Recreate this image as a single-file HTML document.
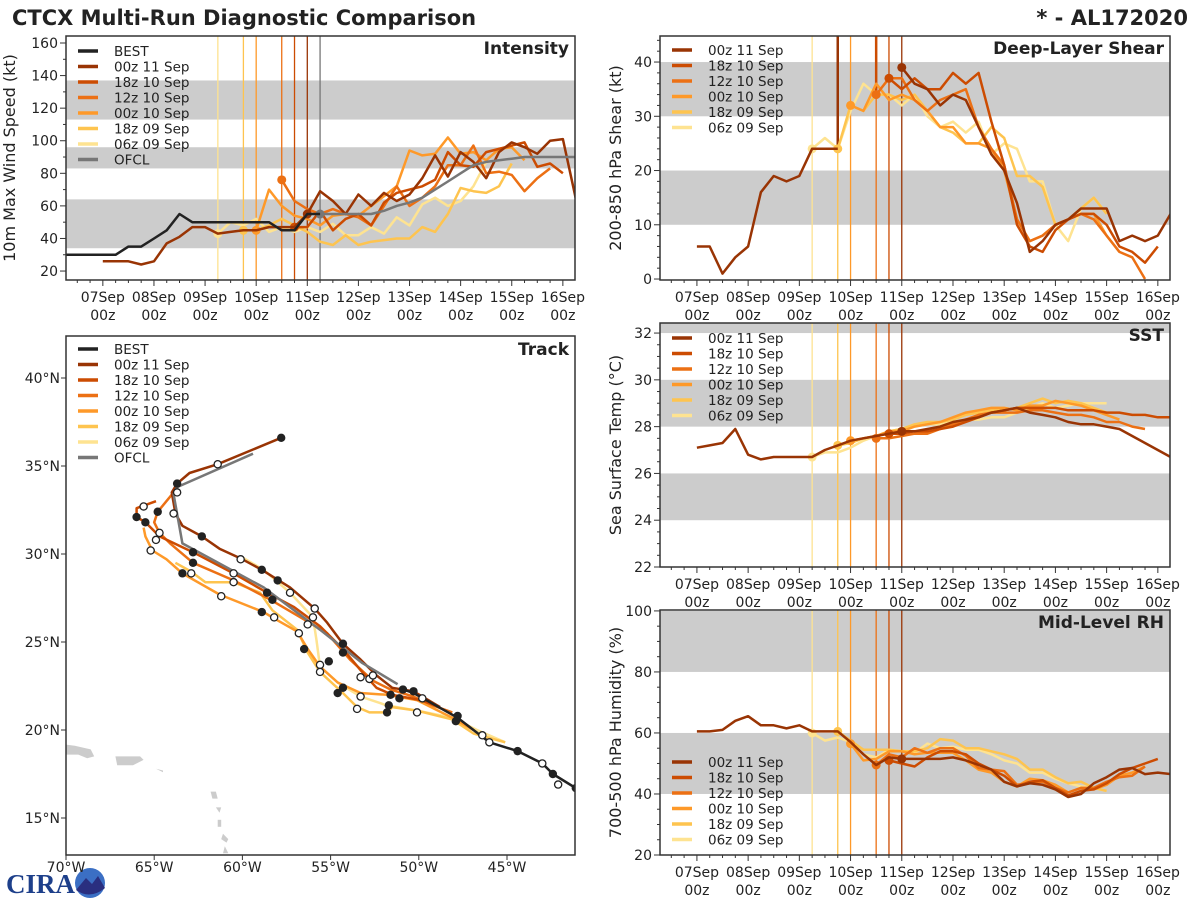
<!DOCTYPE html>
<html><head><meta charset="utf-8">
<style>
html,body{margin:0;padding:0;background:#fff;}
svg{display:block;font-family:"DejaVu Sans","Liberation Sans",sans-serif;}
</style></head>
<body>
<svg id="fig" width="1200" height="900" viewBox="0 0 1200 900" xmlns="http://www.w3.org/2000/svg">
<text x="12" y="25" font-size="21" font-weight="bold" fill="#222">CTCX Multi-Run Diagnostic Comparison</text>
<text x="1188" y="25" font-size="21" font-weight="bold" fill="#222" text-anchor="end">* - AL172020</text>
<g>
<text x="6" y="893" font-size="27" font-weight="bold" fill="#1d3f8a" font-family="Liberation Serif, serif">CIRA</text>
<circle cx="90" cy="883" r="15" fill="#3b6fc4"/>
<path d="M76 890 L86 878 L92 884 L98 876 L105 888 Q90 900 76 890Z" fill="#2a2f80"/>
</g>
</svg>
<script>
const NS='http://www.w3.org/2000/svg';
const svg=document.getElementById('fig');
function mk(tag,attrs,parent){const e=document.createElementNS(NS,tag);for(const k in attrs)e.setAttribute(k,attrs[k]);(parent||svg).appendChild(e);return e;}

// ===== data =====
const runNames=['00z 11 Sep','18z 10 Sep','12z 10 Sep','00z 10 Sep','18z 09 Sep','06z 09 Sep'];
const runColors=['#993404','#cc4c02','#ec7014','#fe9929','#fec44f','#fee391'];
const runInitHours=[96,90,84,72,66,54];
const dayLabels=['07Sep','08Sep','09Sep','10Sep','11Sep','12Sep','13Sep','14Sep','15Sep','16Sep'];

// Intensity (kt), 6-hourly from start hour
const bestIntStart=-18;
const bestInt=[30,30,30,30,30,35,35,40,45,55,50,50,50,50,50,50,50,45,45,55,55];
const ofclIntStart=102;
const ofclInt=[55,55,55,55,55,57,60,62,65,70,75,80,85,87,88,89,90,90,90,90,90];
const intStarts=[0,90,84,72,66,54];
const int00z11=[26,26,26,24,26,37,41,47,47,43,44,45,45,47,47,47,55,69,63,55,67,60,68,63,67,77,91,78,93,87,77,93,99,96,92,100,101,65];
const int18z10=[47,47,57,45,52,55,48,62,68,70,72,76,93,85,84,93,95,97,99,84,86,80];
const int12z10=[76,63,58,55,58,55,53,48,60,72,60,65,72,85,85,97,80,81,79,69,77,83];
const int00z10=[45,70,60,54,52,48,54,55,54,60,66,72,94,91,92,102,92,93,88,95,96,88];
const int18z09=[45,45,48,52,48,44,38,36,42,36,38,39,40,40,47,44,55,71,69,68,72,86];
const int06z09=[43,50,48,52,44,47,44,47,44,49,42,42,47,43,53,48,61,65,60,63,72,87];

// Shear (kt); null = missing
const shrStarts=[0,90,84,72,66,54];
const shr00z11=[6,6,1,4,6,16,19,18,19,24,24,24,null,null,null,null,39,36,35,32,34,33,28,23,20,14,5,7,10,11,13,13,13,7,8,7,8,12];
const shr18z10=[37,35,37,35,35,38,36,38,29,21,10,6,5,9,11,12,12,10,6,5,3,6];
const shr12z10=[34,37,37,33,31,33,34,35,28,24,21,11,7,8,10,11,12,11,8,5,4,0];
const shr00z10=[32,31,36,33,34,33,31,28,28,25,25,24,20,11,7,8,10,11,12,12,8,5];
const shr18z09=[24,32,31,34,34,33,34,31,28,27,25,25,28,26,19,19,17,10,11,13,15,12];
const shr06z09=[24,26,24,31,36,34,34,32,34,30,28,29,27,29,23,25,24,18,18,10,7,13,15,12];
// off-scale spikes: [hour, value, run index]
const shrSpikeHours=[66,84];
const shrSpikeValues=[24,34];
const shrSpikeRuns=[0,1];

// SST (C)
const sstStarts=[0,90,84,72,66,54];
const sst00z11=[27.1,27.2,27.3,27.9,26.8,26.6,26.7,26.7,26.7,26.7,27.0,27.2,27.4,27.5,27.6,27.7,27.8,27.8,27.9,28.0,28.2,28.3,28.4,28.6,28.7,28.8,28.6,28.5,28.4,28.2,28.1,28.1,28.0,27.9,27.6,27.3,27.0,26.7];
const sst18z10=[27.7,27.7,27.8,27.8,27.9,28.0,28.2,28.4,28.6,28.7,28.8,28.8,28.8,28.8,28.7,28.7,28.7,28.6,28.6,28.5,28.5,28.4,28.4];
const sst12z10=[27.5,27.5,27.6,27.7,27.7,27.9,28.1,28.3,28.5,28.6,28.6,28.6,28.7,28.7,28.6,28.5,28.5,28.4,28.2,28.2,28.0,27.9];
const sst00z10=[27.4,27.5,27.6,27.8,27.8,28.0,28.1,28.2,28.4,28.6,28.7,28.8,28.8,28.7,28.9,28.9,29.1,29.0,28.9,28.7,28.5,28.3];
const sst18z09=[27.2,27.3,27.5,27.6,27.8,27.9,28.1,28.2,28.2,28.3,28.5,28.6,28.7,28.7,28.8,29.0,29.2,29.0,29.1,29.0,28.8,28.6];
const sst06z09=[26.7,26.9,26.9,27.1,27.4,27.6,27.8,27.9,28.1,28.1,28.1,28.2,28.3,28.3,28.4,28.4,28.6,28.8,29.0,28.8,28.9,29.0,29.0,29.0];

// RH (%)
const rhStarts=[0,90,84,72,66,54];
const rh00z11=[60.5,60.5,61,64,65.5,62.5,62.5,61.5,62.5,60.5,60.5,60.5,57,53,49.5,52,51.5,51.5,51.5,51.5,52,51,49.5,48,44,42.5,43.5,43,41.5,39,40,43.5,45.5,48,48.5,46.5,47,46.5];
const rh18z10=[51,50,49,52,54,54,53,50,48,46,42.5,44,44.5,42,39.5,41,41.5,43.5,46.5,48.5,50,51.5];
const rh12z10=[49.5,53,52,55,53.5,55,55,52.5,48.5,48,47.5,43,43.5,44,42,40.5,42,42,44,45.5,46,49];
const rh00z10=[56.5,51,51.5,54,54,53,53.5,53.5,53.5,51,48,47,44,42.5,45,44.5,43,40.5,42,41.5,43,46,47,49];
const rh18z09=[60.5,57.5,54.5,54.5,54.5,54,54,55,58,57.5,55,55,54,53,51.5,48,48,45.5,43.5,44,42,41];
const rh06z09=[60,57.5,58.5,57,53,52,54.5,54,53.5,56.5,55,55.5,54.5,54.5,53,51,50,47,47,45,43.5,42.5,42,41];

// Tracks [lon, lat]
const trkBest=[[-50.9,22.3],[-50.3,22.1],[-47.8,20.7],[-46.0,19.3],[-44.4,18.8],[-43.0,18.1],[-42.4,17.5],[-41.1,16.7]];
const trkOfcl=[[-51.2,22.6],[-53.2,23.8],[-55.6,25.7],[-58.8,28.1],[-63.4,30.6],[-63.9,33.4],[-63.7,33.8],[-59.4,35.7]];
const trk00z11=[[-57.8,36.6],[-61.4,35.1],[-63.0,34.6],[-63.7,34.0],[-64.0,33.5],[-63.8,32.3],[-63.4,31.6],[-62.3,31.0],[-61.3,30.3],[-60.0,29.7],[-58.9,29.1],[-57.3,28.1],[-55.9,26.9],[-55.2,26.1],[-54.3,24.9],[-53.3,24.0],[-52.4,23.1],[-51.5,22.4],[-50.3,22.2],[-48.8,21.3]];
const trk18z10=[[-64.9,33.0],[-66.0,32.6],[-66.0,32.1],[-65.5,31.8],[-64.7,31.0],[-62.8,30.1],[-60.5,28.9],[-58.6,27.8],[-57.1,27.0],[-55.6,25.9],[-54.3,24.6],[-53.3,23.4],[-52.4,22.4],[-51.5,22.0],[-49.9,21.7],[-48.8,21.3]];
const trk12z10=[[-63.9,33.5],[-64.8,32.4],[-65.0,31.8],[-64.7,31.2],[-64.1,30.6],[-62.8,29.5],[-60.5,28.5],[-58.4,27.4],[-56.7,26.4],[-55.2,25.5],[-53.9,24.0],[-52.6,22.8],[-51.6,22.3],[-50.3,21.9],[-49.2,21.4],[-48.1,21.0]];
const trk00z10=[[-65.6,31.5],[-65.5,31.0],[-65.1,30.2],[-64.3,29.7],[-63.4,28.9],[-61.3,27.7],[-58.8,26.7],[-58.3,26.4],[-56.9,25.6],[-56.3,24.6],[-55.6,23.6],[-54.6,22.7],[-53.3,22.1],[-51.8,22.0],[-50.1,21.7],[-48.1,20.7],[-46.9,20.0]];
const trk18z09=[[-63.8,29.5],[-62.9,29.0],[-62.1,28.4],[-60.5,28.4],[-59.0,27.8],[-58.3,26.8],[-56.9,25.7],[-56.3,24.4],[-55.6,23.3],[-54.3,22.1],[-53.5,21.3],[-52.8,21.0],[-51.8,21.0],[-51.5,21.3],[-50.1,21.1],[-48.1,20.6],[-46.9,19.8],[-45.1,19.3]];
const trk06z09=[[-60.0,29.8],[-58.8,29.1],[-57.3,27.8],[-56.0,26.4],[-55.8,25.1],[-55.6,23.6],[-54.6,22.7],[-53.3,21.9],[-51.8,21.4],[-50.1,21.1],[-48.1,20.7],[-46.7,20.0],[-45.1,19.3]];
const dotsFilled=[[-63.7,34.0],[-66.0,32.1],[-65.5,31.8],[-64.8,32.4],[-62.3,31.0],[-62.8,30.1],[-62.8,29.5],[-63.4,28.9],[-58.9,29.1],[-58.0,28.5],[-58.6,27.8],[-58.3,27.4],[-58.9,26.7],[-56.5,24.6],[-55.1,23.9],[-54.3,24.9],[-54.3,24.4],[-54.3,22.4],[-54.6,22.1],[-51.7,21.4],[-51.8,21.0],[-51.6,22.0],[-51.1,21.8],[-50.3,22.2],[-50.9,22.3],[-47.8,20.8],[-47.9,20.5],[-44.4,18.8],[-42.4,17.5],[-57.8,36.6],[-41.1,16.7]];
const dotsHollow=[[-61.4,35.1],[-63.7,33.5],[-63.9,32.3],[-65.6,32.7],[-64.7,31.2],[-64.9,30.8],[-65.2,30.2],[-62.9,28.9],[-60.5,28.9],[-60.5,28.4],[-61.2,27.6],[-60.1,29.7],[-57.3,27.8],[-55.9,26.9],[-56.0,26.4],[-56.3,26.0],[-56.8,25.5],[-58.2,26.4],[-55.6,23.7],[-55.6,23.3],[-53.3,23.0],[-52.8,22.9],[-52.6,23.1],[-53.3,21.9],[-53.5,21.2],[-50.1,21.0],[-49.8,21.8],[-46.4,19.7],[-46.0,19.3],[-43.0,18.1],[-42.1,16.9]];

// ===== time panels =====
const H0=-17.3,H1=221.7;
function panel(cfg){
  const g=mk('g',{});
  
  
  const X=h=>cfg.x0+(h-H0)/(H1-H0)*(cfg.x1-cfg.x0);
  const Y=v=>cfg.y1-(v-cfg.vmin)/(cfg.vmax-cfg.vmin)*(cfg.y1-cfg.y0);
  const cid='clip-'+cfg.name;
  const cp=mk('clipPath',{id:cid},g);
  mk('rect',{x:cfg.x0,y:cfg.y0,width:cfg.x1-cfg.x0,height:cfg.y1-cfg.y0},cp);
  cfg.bands.forEach(b=>{
    const r=mk('rect',{x:cfg.x0,y:Y(Math.min(b[1],cfg.vmax)),width:cfg.x1-cfg.x0,height:Y(b[0])-Y(Math.min(b[1],cfg.vmax)),fill:'#cccccc'},g);
    
    
  });
  const inner=mk('g',{'clip-path':'url(#'+cid+')'},g);
  cfg.vlines.forEach(v=>{
    const l=mk('line',{x1:X(v[0]),x2:X(v[0]),y1:cfg.y0,y2:cfg.y1,stroke:v[1],'stroke-width':1.3},inner);
    
    
  });
  (cfg.spikes||[]).forEach(s=>{
    const l=mk('line',{x1:X(s[0]),x2:X(s[0]),y1:Y(s[1]),y2:cfg.y0,stroke:s[2],'stroke-width':2.5},inner);
    
    
  });
  cfg.series.forEach(s=>{
    let segs=[],cur=[];
    s.vals.forEach((v,i)=>{
      if(v===null){if(cur.length)segs.push(cur);cur=[];}
      else cur.push(X(s.start+6*i).toFixed(1)+','+Y(v).toFixed(1));
    });
    if(cur.length)segs.push(cur);
    segs.forEach(sg=>{
      const p=mk('polyline',{points:sg.join(' '),fill:'none',stroke:s.color,'stroke-width':s.w||2.5,'stroke-linejoin':'round'},inner);
      
      
    });
    if(s.dotH!==undefined){
      const idx=Math.round((s.dotH-s.start)/6);
      const v=s.vals[idx];
      if(v!==null&&v!==undefined){
        const c=mk('circle',{cx:X(s.dotH),cy:Y(v),r:4.5,fill:s.color},inner);
        
        
      }
    }
  });
  const fr=mk('rect',{x:cfg.x0,y:cfg.y0,width:cfg.x1-cfg.x0,height:cfg.y1-cfg.y0,fill:'none',stroke:'#333','stroke-width':1.5},g);
  
  
  for(let v=cfg.vmin0;v<=cfg.vmax+1e-9;v+=cfg.minor){
    const r=(v-cfg.tickStart)/cfg.major;
    const major=Math.abs(r-Math.round(r))<1e-6;
    mk('line',{x1:cfg.x0,x2:cfg.x0-(major?6:3),y1:Y(v),y2:Y(v),stroke:'#333','stroke-width':1},g);
    if(major){
      const t=mk('text',{x:cfg.x0-8,y:Y(v)+5,'font-size':14,'text-anchor':'end',fill:'#222'},g);
      t.textContent=String(Math.round(v));
      
      
    }
  }
  for(let h=-12;h<=H1;h+=6){
    const major=h%24===0;
    mk('line',{x1:X(h),x2:X(h),y1:cfg.y1,y2:cfg.y1+(major?6:3),stroke:'#333','stroke-width':1},g);
  }
  dayLabels.forEach((d,i)=>{
    const t1=mk('text',{x:X(24*i),y:cfg.y1+22,'font-size':14,'text-anchor':'middle',fill:'#222'},g);
    t1.textContent=d;
    
    
    const t2=mk('text',{x:X(24*i),y:cfg.y1+40,'font-size':14,'text-anchor':'middle',fill:'#222'},g);
    t2.textContent='00z';
    
    
  });
  const tt=mk('text',{x:cfg.x1-6,y:cfg.y0+18,'font-size':17,'font-weight':'bold','text-anchor':'end',fill:'#222'},g);
  tt.textContent=cfg.title;
  
  
  const yl=mk('text',{x:0,y:0,'font-size':16,'text-anchor':'middle',fill:'#222',transform:'translate('+cfg.ylx+','+((cfg.y0+cfg.y1)/2)+') rotate(-90)'},g);
  yl.textContent=cfg.ylabel;
  
  
  cfg.legend.forEach((e,i)=>{
    const y=cfg.legY+i*15.5;
    const l=mk('line',{x1:cfg.x0+12,x2:cfg.x0+32,y1:y,y2:y,stroke:e[1],'stroke-width':3.5},g);
    
    
    const t=mk('text',{x:cfg.x0+48,y:y+5,'font-size':13.5,fill:'#222'},g);
    t.textContent=e[0];
    
    
  });
}
const runVLines=runInitHours.map((h,i)=>[h,runColors[i]]).reverse();
function runSeries(starts,arrs){return arrs.map((a,i)=>({key:runNames[i].replace(/ /g,'-'),start:starts[i],vals:a,color:runColors[i],dotH:runInitHours[i]})).reverse();}
const runLegend=runNames.map((n,i)=>[n,runColors[i]]);

panel({name:'intensity-panel',x0:66,x1:575,y0:36,y1:280,vmin:14.5,vmax:164.3,vmin0:20,tickStart:20,major:20,minor:10,
  bands:[[34,64],[83,96],[113,137]],vlines:runVLines.concat([[102,'#777']]),
  series:runSeries(intStarts,[int00z11,int18z10,int12z10,int00z10,int18z09,int06z09]).concat([
    {key:'ofcl',start:ofclIntStart,vals:ofclInt,color:'#777',dotH:102},
    {key:'best',start:bestIntStart,vals:bestInt,color:'#222'}]),
  title:'Intensity',ylabel:'10m Max Wind Speed (kt)',ylx:15,legY:51,
  legend:[['BEST','#222']].concat(runLegend,[['OFCL','#777']])});
panel({name:'shear-panel',x0:660,x1:1170,y0:36,y1:280,vmin:-0.18,vmax:44.8,vmin0:0,tickStart:0,major:10,minor:2,
  bands:[[10,20],[30,40]],vlines:runVLines,
  spikes:shrSpikeHours.map((h,i)=>[h,shrSpikeValues[i],runColors[shrSpikeRuns[i]]]),
  series:runSeries(shrStarts,[shr00z11,shr18z10,shr12z10,shr00z10,shr18z09,shr06z09]),
  title:'Deep-Layer Shear',ylabel:'200-850 hPa Shear (kt)',ylx:621,legY:50,legend:runLegend});
panel({name:'sst-panel',x0:660,x1:1170,y0:323,y1:567,vmin:22,vmax:32.43,vmin0:22,tickStart:22,major:2,minor:0.5,
  bands:[[24,26],[28,30],[32,33]],vlines:runVLines,
  series:runSeries(sstStarts,[sst00z11,sst18z10,sst12z10,sst00z10,sst18z09,sst06z09]),
  title:'SST',ylabel:'Sea Surface Temp (°C)',ylx:621,legY:338,legend:runLegend});
panel({name:'rh-panel',x0:660,x1:1170,y0:610,y1:855,vmin:20,vmax:100.3,vmin0:20,tickStart:20,major:20,minor:5,
  bands:[[40,60],[80,100]],vlines:runVLines,
  series:runSeries(rhStarts,[rh00z11,rh18z10,rh12z10,rh00z10,rh18z09,rh06z09]),
  title:'Mid-Level RH',ylabel:'700-500 hPa Humidity (%)',ylx:621,legY:762,legend:runLegend});

// ===== track panel =====
(function(){
  const x0=66,x1=575,y0=336,y1=855;
  const LX=lon=>66+(lon+70)*17.64;
  const LY=lat=>378+(40-lat)*17.6;
  const g=mk('g',{});
  
  
  const cp=mk('clipPath',{id:'clip-track'},g);
  mk('rect',{x:x0,y:y0,width:x1-x0,height:y1-y0},cp);
  const inner=mk('g',{'clip-path':'url(#clip-track)'},g);
  const land=[[[-70.2,19.2],[-69.5,19.1],[-68.6,18.9],[-68.4,18.5],[-68.8,18.4],[-69.3,18.6],[-70.2,18.6]],
              [[-67.2,18.5],[-65.8,18.5],[-65.6,18.3],[-66.2,18.0],[-67.1,18.0]],
              [[-61.8,16.5],[-61.5,16.5],[-61.4,16.1],[-61.7,16.1]],[[-61.5,15.6],[-61.2,15.6],[-61.3,15.3]],
              [[-61.4,14.9],[-61.2,14.9],[-61.2,14.5],[-61.4,14.5]],[[-61.1,14.1],[-60.8,13.8],[-60.9,13.6],[-61.2,13.8]],
              [[-61.0,13.4],[-60.8,13.0],[-61.1,13.0]],[[-64.9,17.8],[-64.5,17.7],[-64.5,17.6]]];
  land.forEach(poly=>{
    const p=mk('polygon',{points:poly.map(q=>LX(q[0]).toFixed(1)+','+LY(q[1]).toFixed(1)).join(' '),fill:'#cccccc'},inner);
    
    
  });
  const tracks=[[trk06z09,runColors[5],'06z09'],[trk18z09,runColors[4],'18z09'],[trk00z10,runColors[3],'00z10'],[trk12z10,runColors[2],'12z10'],[trk18z10,runColors[1],'18z10'],[trk00z11,runColors[0],'00z11'],[trkOfcl,'#777','ofcl'],[trkBest,'#222','best']];
  tracks.forEach(t=>{
    const p=mk('polyline',{points:t[0].map(q=>LX(q[0]).toFixed(1)+','+LY(q[1]).toFixed(1)).join(' '),fill:'none',stroke:t[1],'stroke-width':2.5,'stroke-linejoin':'round'},inner);
    
    
  });
  dotsFilled.forEach(q=>{
    const c=mk('circle',{cx:LX(q[0]),cy:LY(q[1]),r:4.2,fill:'#222'},inner);
    
    
  });
  dotsHollow.forEach(q=>{
    const c=mk('circle',{cx:LX(q[0]),cy:LY(q[1]),r:3.6,fill:'#fff',stroke:'#222','stroke-width':1.3},inner);
    
    
  });
  const fr=mk('rect',{x:x0,y:y0,width:x1-x0,height:y1-y0,fill:'none',stroke:'#333','stroke-width':1.5},g);
  
  
  [40,35,30,25,20,15].forEach(lat=>{
    mk('line',{x1:x0,x2:x0-5,y1:LY(lat),y2:LY(lat),stroke:'#333'},g);
    const t=mk('text',{x:60,y:LY(lat)+5,'font-size':14,'text-anchor':'end',fill:'#222'},g);
    t.textContent=lat+'°N';
    
    
  });
  [70,65,60,55,50,45].forEach(lon=>{
    mk('line',{x1:LX(-lon),x2:LX(-lon),y1:y1,y2:y1+5,stroke:'#333'},g);
    const t=mk('text',{x:LX(-lon),y:872,'font-size':14,'text-anchor':'middle',fill:'#222'},g);
    t.textContent=lon+'°W';
    
    
  });
  const tt=mk('text',{x:x1-6,y:y0+19,'font-size':17,'font-weight':'bold','text-anchor':'end',fill:'#222'},g);
  tt.textContent='Track';
  
  
  const leg=[['BEST','#222']].concat(runLegend,[['OFCL','#777']]);
  leg.forEach((e,i)=>{
    const y=349+i*15.5;
    const l=mk('line',{x1:x0+12,x2:x0+32,y1:y,y2:y,stroke:e[1],'stroke-width':3.5},g);
    
    
    const t=mk('text',{x:x0+48,y:y+5,'font-size':13.5,fill:'#222'},g);
    t.textContent=e[0];
    
    
  });
})();
</script>
</body></html>
